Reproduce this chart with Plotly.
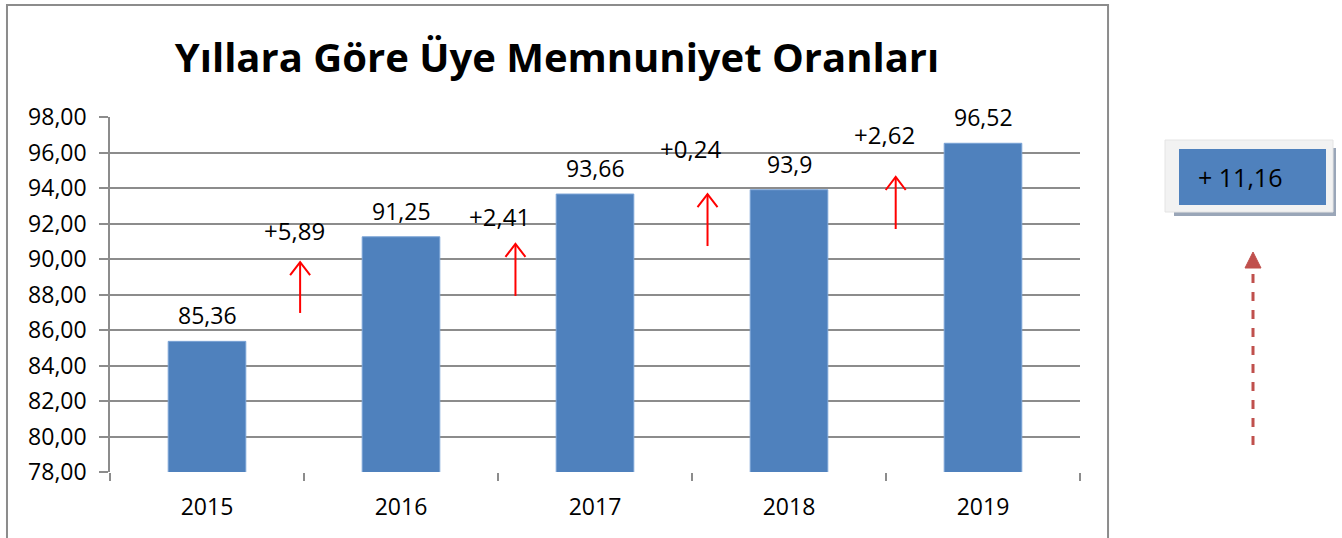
import plotly.graph_objects as go

years = ["2015", "2016", "2017", "2018", "2019"]
values = [85.36, 91.25, 93.66, 93.9, 96.52]
deltas = [5.89, 2.41, 0.24, 2.62]
total_change = 11.16
y_ticks = [78, 80, 82, 84, 86, 88, 90, 92, 94, 96, 98]

# layout positions for the change arrows (category-index x, value y)
arrow_x = [0.48, 1.59, 2.58, 3.55]
arrow_y0 = [86.96, 87.92, 90.73, 91.69]
arrow_y1 = [89.83, 90.85, 93.66, 94.62]
label_x = [0.45, 1.51, 2.49, 3.49]
label_y = [91.58, 92.42, 96.2, 96.99]

def tr(v, nd=None):
    s = f"{v:.{nd}f}" if nd is not None else str(v)
    return s.replace(".", ",")

FONT = "Open Sans, Calibri, sans-serif"
BLUE = "#4f81bd"
GRID = "#8c8c8c"

fig = go.Figure()
fig.add_trace(go.Bar(
    x=years, y=values, width=0.4,
    marker=dict(color=BLUE, line=dict(color="#7aa3d6", width=1)),
    hoverinfo="skip",
))

annotations = []
shapes = []
for i, v in enumerate(values):
    annotations.append(dict(x=i, y=v, text=tr(v), showarrow=False, xref="x", yref="y",
                            yanchor="bottom", yshift=8, font=dict(size=23, color="#000", family=FONT)))

for ax, y0, y1, lx, ly, d in zip(arrow_x, arrow_y0, arrow_y1, label_x, label_y, deltas):
    shapes.append(dict(type="line", xref="x", yref="y", x0=ax, x1=ax, y0=y0, y1=y1,
                       line=dict(color="red", width=2)))
    shapes.append(dict(type="path", xref="x", yref="y", xsizemode="pixel", ysizemode="pixel",
                       xanchor=ax, yanchor=y1, path="M -10,-13 L 0,0 L 10,-13",
                       line=dict(color="red", width=2)))
    annotations.append(dict(x=lx, y=ly, text="+" + tr(d, 2), showarrow=False, xref="x", yref="y",
                            font=dict(size=24, color="#000", family=FONT)))

# outer chart frame
shapes.append(dict(type="rect", xref="paper", yref="paper", x0=-0.1062, x1=1.0289, y0=-0.3, y1=1.3155,
                   line=dict(color="#8c8c8c", width=2), layer="below"))

# total change box on the right
def px(xp):
    return (xp - 110) / 970
def py(yp):
    return (472 - yp) / 355

shapes.append(dict(type="rect", xref="paper", yref="paper", x0=px(1174), x1=px(1336), y0=py(216), y1=py(148),
                   fillcolor="#9aa6b8", line=dict(width=0)))
shapes.append(dict(type="rect", xref="paper", yref="paper", x0=px(1165), x1=px(1333), y0=py(212), y1=py(140),
                   fillcolor="#f2f2f2", line=dict(color="#e4e4e4", width=1)))
shapes.append(dict(type="rect", xref="paper", yref="paper", x0=px(1179), x1=px(1326), y0=py(205), y1=py(149),
                   fillcolor=BLUE, line=dict(width=0)))
annotations.append(dict(xref="paper", yref="paper", x=px(1196), y=py(177), xanchor="left", yanchor="middle",
                        text="+ " + tr(total_change, 2), showarrow=False,
                        font=dict(size=25, color="#000", family=FONT)))
# dashed arrow under the box
shapes.append(dict(type="line", xref="paper", yref="paper", x0=px(1253), x1=px(1253), y0=py(445), y1=py(266),
                   line=dict(color="#c0504d", width=3, dash="dash")))
shapes.append(dict(type="path", xref="paper", yref="paper", xsizemode="pixel", ysizemode="pixel",
                   xanchor=px(1253), yanchor=py(252), path="M -8,-16 L 0,0 L 8,-16 Z",
                   fillcolor="#c0504d", line=dict(color="#c0504d", width=1)))

fig.update_layout(
    width=1342, height=538,
    margin=dict(l=110, r=262, t=117, b=66),
    paper_bgcolor="white", plot_bgcolor="white",
    showlegend=False,
    title=dict(text="<b>Yıllara Göre Üye Memnuniyet Oranları</b>", x=557 / 1342, xref="container",
               xanchor="center", y=1 - 58 / 538, yref="container", yanchor="middle",
               font=dict(size=40, color="#000", family=FONT)),
    font=dict(family=FONT, color="#000"),
    shapes=shapes,
    annotations=annotations,
    xaxis=dict(type="category", tickson="boundaries", ticks="outside", ticklen=8, tickcolor=GRID,
               tickwidth=1.5, showgrid=False, showline=False, tickfont=dict(size=23, family=FONT),
               ticklabelstandoff=19, range=[-0.5, 4.5]),
    yaxis=dict(range=[78, 98], tickvals=y_ticks, ticktext=[tr(t, 2) for t in y_ticks],
               showgrid=True, gridcolor=GRID, gridwidth=1.5, ticks="outside", ticklen=9,
               tickcolor=GRID, tickwidth=1.5, showline=True, linecolor=GRID, linewidth=1.5,
               zeroline=False, tickfont=dict(size=23, family=FONT), ticklabelstandoff=8),
    bargap=0.6,
)

fig.write_html("out.html", config={"displayModeBar": False},
               post_script="document.body.style.margin='0';document.body.style.overflow='hidden';")
